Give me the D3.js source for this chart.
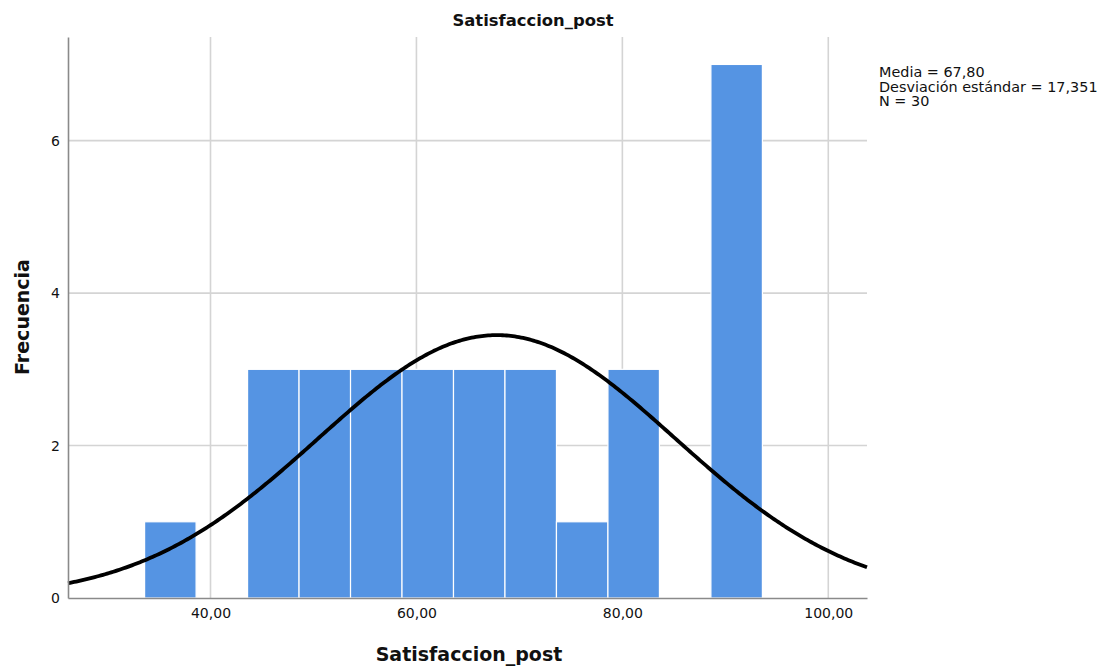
<!DOCTYPE html>
<html>
<head>
<meta charset="utf-8">
<script src="https://cdn.jsdelivr.net/npm/d3@7"></script>
<style>
  html, body { margin: 0; padding: 0; background: #fff; }
  svg { display: block; }
  text { font-family: "DejaVu Sans", sans-serif; fill: #111; }
</style>
</head>
<body>
<svg id="chart" width="1106" height="669"></svg>
<script>
// Histogram bins of Satisfaccion_post (lower edges, width 5) and counts
const binStarts = [33.6, 38.6, 43.6, 48.6, 53.6, 58.6, 63.6, 68.6, 73.6, 78.6, 83.6, 88.6];
const binWidth = 5;
const counts = [1, 0, 3, 3, 3, 3, 3, 3, 1, 3, 0, 7];
const xTicks = [40, 60, 80, 100];
const yTicks = [0, 2, 4, 6];
const mean = 67.80;
const sd = 17.351;
const n = 30;
const statsLines = ["Media = 67,80", "Desviación estándar = 17,351", "N = 30"];

const svg = d3.select("#chart");
const plotLeft = 68, plotRight = 867, plotTop = 37, plotBottom = 598;

const x = d3.scaleLinear().domain([26.16, 103.76]).range([plotLeft, plotRight]);
const y = d3.scaleLinear().domain([0, 7.36]).range([plotBottom, plotTop]);

const fmt = v => d3.format(".2f")(v).replace(".", ",");

// grid lines
svg.append("g").selectAll("line").data(xTicks).join("line")
  .attr("x1", d => x(d)).attr("x2", d => x(d))
  .attr("y1", plotTop).attr("y2", plotBottom)
  .attr("stroke", "#d4d4d4").attr("stroke-width", 1.6);
svg.append("g").selectAll("line").data(yTicks.filter(d => d > 0)).join("line")
  .attr("x1", plotLeft).attr("x2", plotRight)
  .attr("y1", d => y(d)).attr("y2", d => y(d))
  .attr("stroke", "#d4d4d4").attr("stroke-width", 1.6);

// bars
const bins = binStarts.map((s, i) => ({ x0: s, x1: s + binWidth, c: counts[i] }));
svg.append("g").selectAll("rect").data(bins.filter(b => b.c > 0)).join("rect")
  .attr("x", d => x(d.x0))
  .attr("width", d => x(d.x1) - x(d.x0))
  .attr("y", d => y(d.c))
  .attr("height", d => y(0) - y(d.c))
  .attr("fill", "#5594e3")
  .attr("stroke", "#ffffff")
  .attr("stroke-width", 1.2);

// normal curve scaled to counts
const curvePts = d3.range(x.domain()[0], x.domain()[1] + 0.01, 0.2).map(v => {
  const z = (v - mean) / sd;
  return [v, n * binWidth * Math.exp(-0.5 * z * z) / (sd * Math.sqrt(2 * Math.PI))];
});
svg.append("path")
  .datum(curvePts)
  .attr("fill", "none")
  .attr("stroke", "#000")
  .attr("stroke-width", 3.8)
  .attr("d", d3.line().x(d => x(d[0])).y(d => y(d[1])));

// axes
const xAxis = svg.append("g").attr("transform", `translate(0,${plotBottom})`)
  .call(d3.axisBottom(x).tickValues(xTicks).tickFormat(fmt).tickSize(0).tickPadding(10));
const yAxis = svg.append("g").attr("transform", `translate(${plotLeft},0)`)
  .call(d3.axisLeft(y).tickValues(yTicks).tickFormat(d3.format("d")).tickSize(0).tickPadding(8));
[xAxis, yAxis].forEach(g => {
  g.select(".domain").attr("stroke", "#8a8a8a").attr("stroke-width", 1.6);
  g.selectAll("text").attr("font-size", 14).attr("fill", "#111")
    .attr("font-family", "DejaVu Sans, sans-serif");
});

// titles
svg.append("text").attr("x", 533).attr("y", 26).attr("text-anchor", "middle")
  .attr("font-size", 16.4).attr("font-weight", "bold").text("Satisfaccion_post");
svg.append("text").attr("x", 469).attr("y", 661).attr("text-anchor", "middle")
  .attr("font-size", 19).attr("font-weight", "bold").text("Satisfaccion_post");
svg.append("text").attr("transform", "translate(29,317) rotate(-90)").attr("text-anchor", "middle")
  .attr("font-size", 19).attr("font-weight", "bold").text("Frecuencia");

// summary statistics
svg.append("g").selectAll("text").data(statsLines).join("text")
  .attr("x", 879).attr("y", (d, i) => 77 + i * 14.5)
  .attr("font-size", 14.4).text(d => d);
</script>
</body>
</html>
